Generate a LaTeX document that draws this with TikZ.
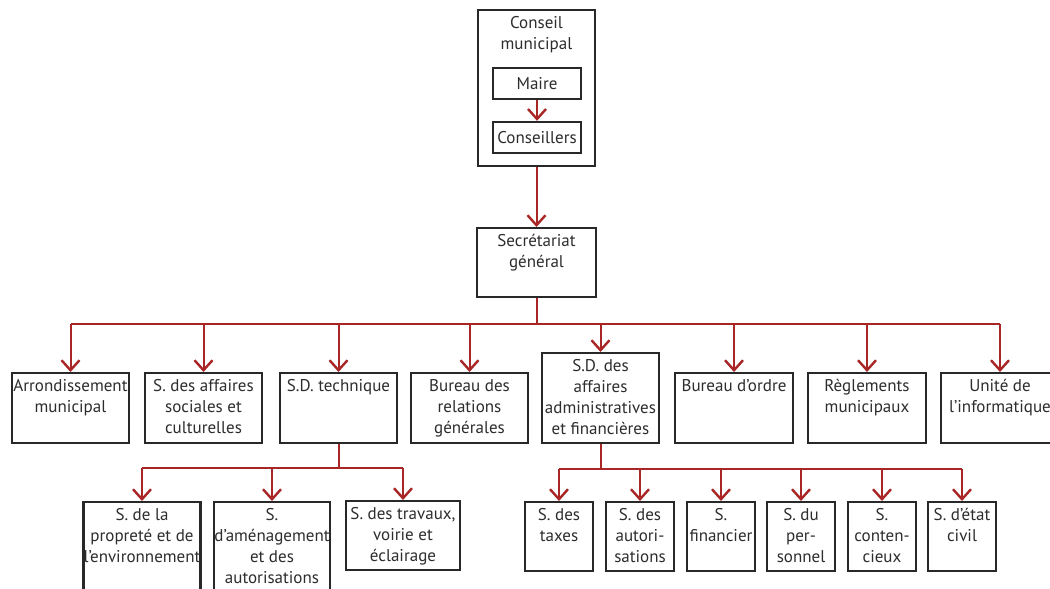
\documentclass[tikz,border=0pt]{standalone}
\usepackage{fontspec}
\setmainfont{PT Sans}
\usetikzlibrary{arrows.meta}
\definecolor{conncol}{RGB}{168,38,38}
\definecolor{bordcol}{RGB}{40,40,40}
\definecolor{txtcol}{RGB}{45,45,45}
\newcommand{\bxt}[3]{\parbox[c][#2pt][t]{#1pt}{\centering\rule{0pt}{18pt}#3\par}}
\begin{document}
\begin{tikzpicture}[x=1pt,y=-1pt,
  box/.style={draw=bordcol, text=txtcol, line width=2.4pt, inner sep=0pt, anchor=north, font=\fontsize{17}{21}\selectfont},
  conn/.style={draw=conncol, line width=2pt},
  arr/.style={conn, -{Straight Barb[length=10pt,width=18pt,line width=2.4pt]}}]
\useasboundingbox (0,0) rectangle (1050,589);
\clip (0,0) rectangle (1050,589);
\fill[white] (0,0) rectangle (1050,589);

% top
\node[box] (cm) at (536.5,9) {\bxt{117}{156}{Conseil\\municipal}};
\node[box,anchor=center] (maire) at (537,83.5) {\parbox[c][31pt][c]{88pt}{\centering Maire}};
\node[box,anchor=center] (cons) at (537,137.5) {\parbox[c][31pt][c]{88pt}{\centering Conseillers}};
\node[box] (sg) at (536.5,227) {\bxt{119}{69}{Secrétariat\\général}};

\draw[arr] (maire.south) -- (cons.north);
\draw[arr] (cm.south) -- (sg.north);

% row 1
\node[box] (arr) at (70.5,372) {\bxt{117}{70}{Arrondissement\\municipal}};
\node[box] (soc) at (203.5,372) {\bxt{117}{70}{S. des affaires\\sociales et\\culturelles}};
\node[box] (tech) at (338.5,372) {\bxt{117}{70}{S.D. technique}};
\node[box] (bur) at (469.5,372) {\bxt{117}{70}{Bureau des\\relations\\générales}};
\node[box] (sdaf) at (600.5,352) {\bxt{117}{90}{S.D. des\\affaires\\administratives\\et financières}};
\node[box] (ord) at (734,372) {\bxt{118}{70}{Bureau d’ordre}};
\node[box] (reg) at (867,372) {\bxt{118}{70}{Règlements\\municipaux}};
\node[box] (uni) at (1000,372) {\bxt{118}{70}{Unité de\\l’informatique}};

\coordinate (busA) at (0,324);
\draw[conn] (sg.south) -- (sg.south |- busA);
\draw[conn] (arr.north |- busA) -- (uni.north |- busA);
\foreach \n in {arr,soc,tech,bur,sdaf,ord,reg,uni}
  \draw[arr] (\n.north |- busA) -- (\n.north);

% row 2 left
\node[box] (prop) at (142,501) {\bxt{117}{100}{S. de la\\propreté et de\\l’environnement}};
\node[box] (amen) at (272,501) {\bxt{116}{100}{S.\\d’aménagement\\et des\\autorisations}};
\node[box] (trav) at (403,500) {\bxt{114}{69}{S. des travaux,\\voirie et\\éclairage}};

\coordinate (busB) at (0,468);
\draw[conn] (tech.south) -- (tech.south |- busB);
\draw[conn] (prop.north |- busB) -- (trav.north |- busB);
\foreach \n in {prop,amen,trav}
  \draw[arr] (\n.north |- busB) -- (\n.north);

% row 2 right
\node[box] (tax) at (559,501) {\bxt{68}{69}{S. des\\taxes}};
\node[box] (aut) at (640,501) {\bxt{68}{69}{S. des\\autori-\\sations}};
\node[box] (fin) at (721,501) {\bxt{68}{69}{S.\\financier}};
\node[box] (per) at (801,501) {\bxt{68}{69}{S. du\\per-\\sonnel}};
\node[box] (con) at (882,501) {\bxt{68}{69}{S.\\conten-\\cieux}};
\node[box] (etat) at (962,501) {\bxt{68}{69}{S. d’état\\civil}};

\coordinate (busC) at (0,469);
\draw[conn] (sdaf.south) -- (sdaf.south |- busC);
\draw[conn] (tax.north |- busC) -- (etat.north |- busC);
\foreach \n in {tax,aut,fin,per,con,etat}
  \draw[arr] (\n.north |- busC) -- (\n.north);
\end{tikzpicture}
\end{document}
